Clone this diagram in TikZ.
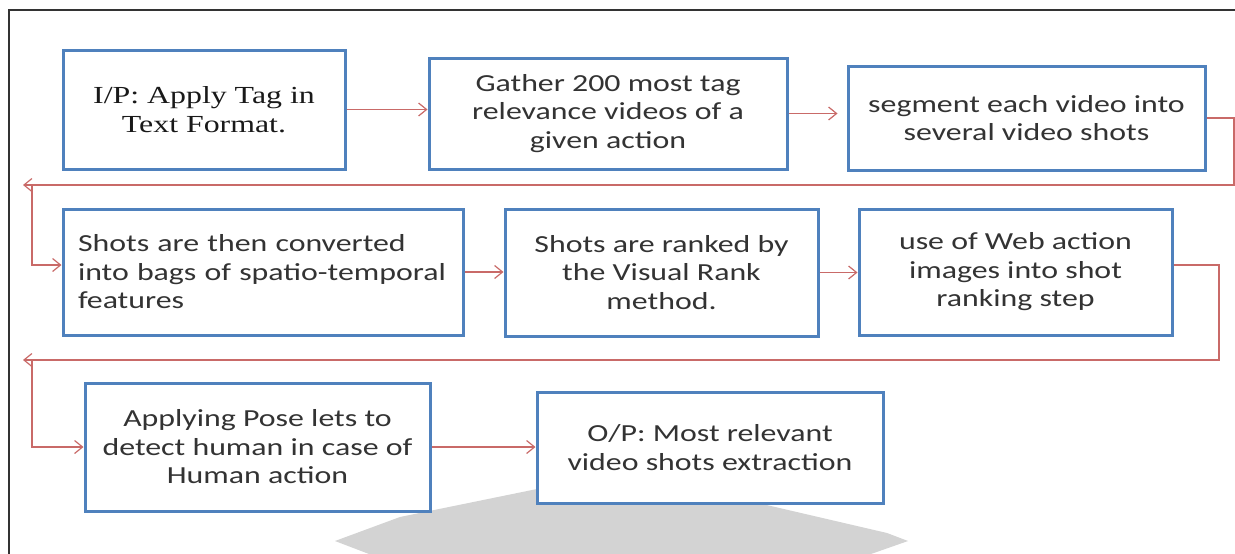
\documentclass[tikz,border=0pt]{standalone}
\usepackage{fontspec}
\setmainfont[FakeStretch=1.3]{Carlito}
\newfontfamily\tagfont[FakeStretch=1.3]{Liberation Serif}
\usetikzlibrary{arrows.meta}
\definecolor{BoxBlue}{RGB}{79,129,189}
\definecolor{FlowRed}{RGB}{192,80,77}
\definecolor{ShadowGray}{RGB}{211,211,211}

\begin{document}
\begin{tikzpicture}[x=1pt,y=-1pt,
        stepbox/.style={draw=BoxBlue,line width=3pt,fill=white,align=center,
            text=black!80,inner sep=0pt,font=\fontsize{24.5}{28.5}\selectfont},
        flow/.style={draw=FlowRed!85,line width=1.2pt,
            -{Straight Barb[length=8pt,width=13pt]}}]
        \useasboundingbox[fill=white] (0,0) rectangle (1235,554);

        % frame
        \draw[black!80,line width=2pt] (9,554) -- (9,10) -- (1235,10);

        % grey shape behind the last box
        \fill[ShadowGray] (335,541) -- (400,517) -- (537,489) -- (650,486)
            -- (758,503) -- (887,533) -- (908,541) -- (871,554) -- (369,554) -- cycle;

        % first row
        \node[stepbox,minimum width=282,minimum height=119,
            font=\tagfont\fontsize{24.5}{28.5}\selectfont,text=black!90]
            (tag) at (204,109.5) {I/P: Apply Tag in\\Text Format.};
        \node[stepbox,minimum width=358,minimum height=111] (gather) at (608,113.5)
            {Gather 200 most tag\\relevance videos of a\\given action};
        \node[stepbox,minimum width=357,minimum height=104] (segment) at (1026.5,118)
            {segment each video into\\several video shots};

        % second row
        \node[stepbox,minimum width=400,minimum height=126,text width=370,align=left]
            (convert) at (263,272)
            {Shots are then converted\\into bags of spatio-temporal\\features};
        \node[stepbox,minimum width=313,minimum height=127] (rank) at (661.5,272.5)
            {Shots are ranked by\\the Visual Rank\\method.};
        \node[stepbox,minimum width=313,minimum height=126] (web) at (1015.5,272)
            {use of Web action\\images into shot\\ranking step};

        % third row
        \node[stepbox,minimum width=345,minimum height=128] (pose) at (257.5,447)
            {Applying Pose lets to\\detect human in case of\\Human action};
        \node[stepbox,minimum width=346,minimum height=111] (result) at (710,447.5)
            {O/P: Most relevant\\video shots extraction};

        % turning points of the return lines
        \coordinate (turnA) at (1234,185);
        \coordinate (endA) at (23,185);
        \coordinate (dropA) at (32,185);
        \coordinate (turnB) at (1219,360);
        \coordinate (endB) at (23,360);
        \coordinate (dropB) at (32,360);

        \draw[flow] (tag.east) -- (tag.east -| gather.west);
        \draw[flow,shorten >=9pt] (gather.east) -- (gather.east -| segment.west);
        \draw[flow] (segment.east) -| (turnA) -- (endA);
        \draw[flow] (dropA) |- ([yshift=7pt]convert.west);
        \draw[flow] (convert.east) -- (convert.east -| rank.west);
        \draw[flow] (rank.east) -- (rank.east -| web.west);
        \draw[flow] ([yshift=7pt]web.east) -| (turnB) -- (endB);
        \draw[flow] (dropB) |- (pose.west);
        \draw[flow] (pose.east) -- (pose.east -| result.west);
    \end{tikzpicture}
\end{document}
